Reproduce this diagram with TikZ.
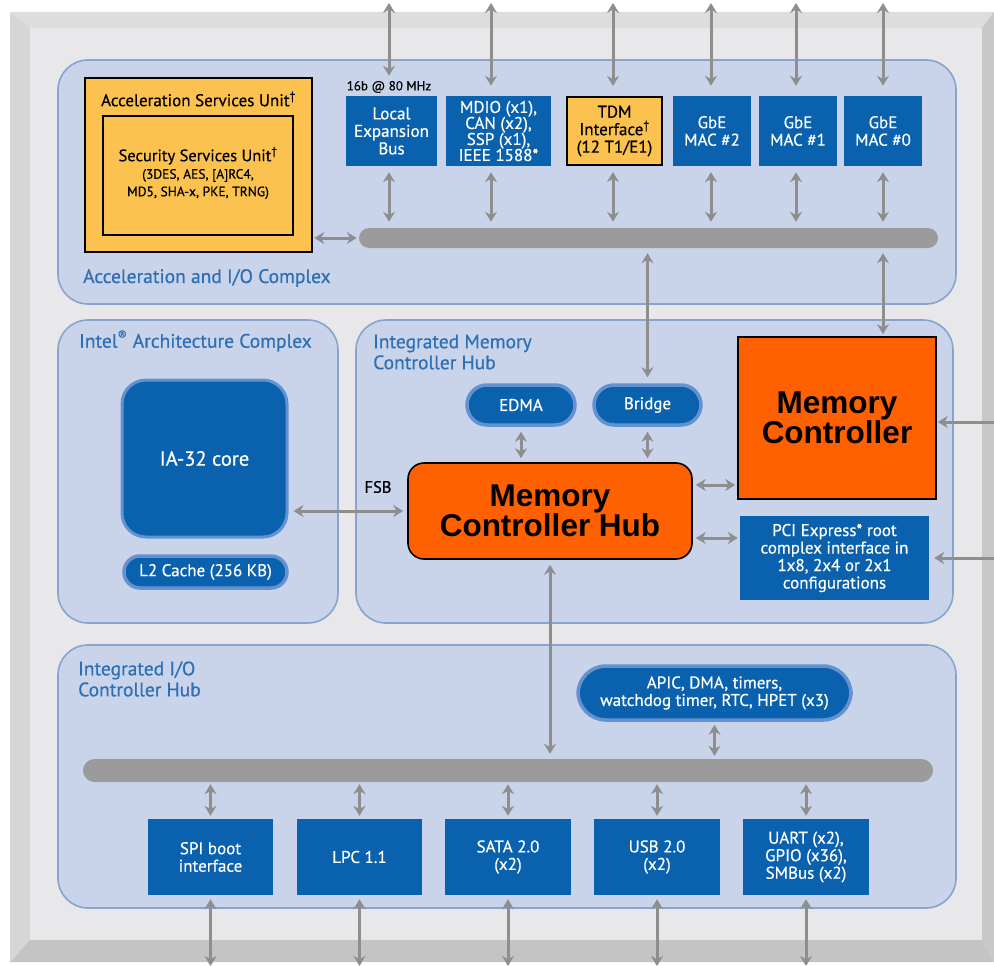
\documentclass[tikz,border=0pt]{standalone}
\usepackage{fontspec}
\setmainfont{PT Sans}[FakeBold=0.5]
\newfontfamily\hubfont{Liberation Sans}
\usetikzlibrary{arrows.meta}
\definecolor{chipblue}{HTML}{0A62AE}
\definecolor{ringblue}{HTML}{6392D0}
\definecolor{panel}{HTML}{C9D4EA}
\definecolor{panelline}{HTML}{88A4CE}
\definecolor{titleblue}{HTML}{2C6FB5}
\definecolor{accel}{HTML}{FBC24F}
\definecolor{hot}{HTML}{FF6000}
\definecolor{busgray}{HTML}{9B9B9B}
\definecolor{wire}{HTML}{8E8E8E}
\definecolor{face}{HTML}{E8E8EA}
\definecolor{bevtop}{HTML}{DDDDDD}
\definecolor{bevleft}{HTML}{D6D6D6}
\definecolor{bevright}{HTML}{C8C8C8}
\definecolor{bevbottom}{HTML}{C4C4C4}
\begin{document}
\begin{tikzpicture}[x=1pt,y=-1pt,
  panelbox/.style={draw=panelline, line width=1.6pt, fill=panel, rounded corners=30pt},
  paneltitle/.style={text=titleblue, anchor=west, inner sep=0pt, align=left,
    font=\fontsize{19.5}{21}\selectfont},
  blk/.style={fill=chipblue, text=white, inner sep=0pt, align=center,
    font=\fontsize{17}{17.5}\selectfont},
  pill/.style={blk, draw=ringblue, line width=3.5pt},
  amber/.style={fill=accel, draw=black, line width=2.6pt, inner sep=0pt},
  hotbox/.style={fill=hot, draw=black, line width=1.6pt, inner sep=0pt, align=center,
    font=\hubfont\bfseries\fontsize{31.5}{30}\selectfont},
  bus/.style={fill=busgray, rounded corners=10pt, inner sep=0pt},
  link/.style={draw=wire, line width=3pt, {Stealth[length=10pt,width=12pt]}-{Stealth[length=10pt,width=12pt]}},
  feed/.style={draw=wire, line width=3pt, -{Stealth[length=10pt,width=12pt]}},
]
\useasboundingbox (0,0) rectangle (994,966);
\fill[white] (0,0) rectangle (994,966);

% bevelled frame
\fill[bevtop] (10,12) -- (994,12) -- (982,28) -- (30,28) -- cycle;
\fill[bevleft] (10,12) -- (30,28) -- (30,940) -- (10,962) -- cycle;
\fill[bevright] (994,12) -- (994,962) -- (982,940) -- (982,28) -- cycle;
\fill[bevbottom] (10,962) -- (30,940) -- (982,940) -- (994,962) -- cycle;
\fill[face] (30,28) rectangle (982,940);

% complexes
\draw[panelbox] (58,60) rectangle (956,304);
\draw[panelbox] (58,320) rectangle (338,623);
\draw[panelbox] (356,320) rectangle (953,623);
\draw[panelbox] (58,645) rectangle (956,908);

\node[paneltitle] (tAcc) at (83,278) {Acceleration and I/O Complex};
\node[paneltitle] (tIA) at (79,341) {Intel\textsuperscript{®} Architecture Complex};
\node[paneltitle] (tIMCH) at (373,352) {Integrated Memory\\Controller Hub};
\node[paneltitle] (tIOCH) at (78,679) {Integrated I/O\\Controller Hub};

% acceleration and I/O complex
\node[amber, minimum width=227pt, minimum height=174pt] (asu) at (198.5,165) {};
\node[inner sep=0pt, font=\fontsize{17}{17}\selectfont] (asuT) at (198.5,99) {Acceleration Services Unit\textsuperscript{†}};
\node[amber, minimum width=190pt, minimum height=119pt] (ssu) at (198,175.5) {};
\node[inner sep=0pt, align=center, font=\fontsize{13.5}{17.5}\selectfont] (ssuT) at (198,173)
  {{\fontsize{16.5}{17}\selectfont Security Services Unit\textsuperscript{†}}\\(3DES, AES, [A]RC4,\\MD5, SHA-x, PKE, TRNG)};

\node[blk, minimum width=91pt, minimum height=70pt] (leb) at (391.5,131) {Local\\Expansion\\Bus};
\node[inner sep=0pt, font=\fontsize{13}{14}\selectfont] (lebT) at (389,87) {16b @ 80 MHz};
\node[blk, minimum width=105pt, minimum height=70pt, font=\fontsize{17}{16}\selectfont] (mdio) at (498.5,131) {MDIO (x1),\\CAN (x2),\\SSP (x1),\\IEEE 1588*};
\node[amber, line width=2pt, minimum width=95pt, minimum height=68pt, align=center,
  font=\fontsize{17}{17.5}\selectfont] (tdm) at (614.5,131) {TDM\\Interface\textsuperscript{†}\\(12 T1/E1)};
\node[blk, minimum width=78pt, minimum height=70pt] (gbe2) at (712,131) {GbE\\MAC \#2};
\node[blk, minimum width=78pt, minimum height=70pt] (gbe1) at (798,131) {GbE\\MAC \#1};
\node[blk, minimum width=78pt, minimum height=70pt] (gbe0) at (883,131) {GbE\\MAC \#0};

\node[bus, minimum width=579pt, minimum height=20pt] (abar) at (648.5,238) {};

% external pins along the top
\coordinate (pLeb) at (389,3);
\coordinate (pMdio) at (491,3);
\coordinate (pTdm) at (613,3);
\coordinate (pG2) at (711,3);
\coordinate (pG1) at (796,3);
\coordinate (pG0) at (883,3);
\draw[link, shorten >=20pt] (pLeb) -- (pLeb |- leb.north);
\draw[link, shorten >=10pt] (pMdio) -- (pMdio |- mdio.north);
\draw[link, shorten >=10pt] (pTdm) -- (pTdm |- tdm.north);
\draw[link, shorten >=10pt] (pG2) -- (pG2 |- gbe2.north);
\draw[link, shorten >=10pt] (pG1) -- (pG1 |- gbe1.north);
\draw[link, shorten >=10pt] (pG0) -- (pG0 |- gbe0.north);

% blocks onto the acceleration bus
\draw[link, shorten <=6pt, shorten >=6pt] (pLeb |- leb.south) -- (pLeb |- abar.north);
\draw[link, shorten <=6pt, shorten >=6pt] (pMdio |- mdio.south) -- (pMdio |- abar.north);
\draw[link, shorten <=6pt, shorten >=6pt] (pTdm |- tdm.south) -- (pTdm |- abar.north);
\draw[link, shorten <=6pt, shorten >=6pt] (pG2 |- gbe2.south) -- (pG2 |- abar.north);
\draw[link, shorten <=6pt, shorten >=6pt] (pG1 |- gbe1.south) -- (pG1 |- abar.north);
\draw[link, shorten <=6pt, shorten >=6pt] (pG0 |- gbe0.south) -- (pG0 |- abar.north);
\draw[link, shorten <=1pt, shorten >=2pt] (asu.east |- abar.west) -- (abar.west);

% Intel architecture complex
\node[blk, draw=ringblue, line width=3pt, rounded corners=24pt, minimum width=165pt,
  minimum height=157pt, font=\fontsize{20.5}{22}\selectfont] (ia) at (204.5,458.5) {IA-32 core};
\node[pill, rounded corners=16pt, minimum width=163pt, minimum height=32pt] (l2) at (205.5,572) {L2 Cache (256 KB)};

% integrated memory controller hub
\node[pill, rounded corners=20pt, minimum width=108pt, minimum height=40pt] (edma) at (521,405) {EDMA};
\node[pill, rounded corners=20pt, minimum width=107pt, minimum height=40pt] (bridge) at (647.5,405) {Bridge};
\node[hotbox, rounded corners=16pt, minimum width=284pt, minimum height=96pt] (mch) at (550,511) {Memory\\Controller Hub};
\node[hotbox, minimum width=198pt, minimum height=162pt] (mc) at (837,418) {Memory\\Controller};
\node[blk, minimum width=189pt, minimum height=84pt] (pcie) at (834.5,558)
  {PCI Express* root\\complex interface in\\1x8, 2x4 or 2x1\\configurations};
\node[inner sep=0pt, font=\fontsize{16.5}{17}\selectfont] (fsb) at (378,487) {FSB};

\draw[link, shorten <=5pt, shorten >=6pt] (abar.south -| bridge.north) -- (bridge.north);
\draw[link, shorten <=5pt, shorten >=2pt] (abar.south -| pG0) -- (mc.north -| pG0);
\draw[link, shorten <=5pt, shorten >=4pt] (edma.south) -- (edma.south |- mch.north);
\draw[link, shorten <=5pt, shorten >=4pt] (bridge.south) -- (bridge.south |- mch.north);
\draw[link, shorten <=5pt, shorten >=4pt] (ia.east |- mch.west) -- (mch.west);
\coordinate (mchUp) at ([yshift=26pt]mch.east);
\coordinate (mchDn) at ([yshift=-27pt]mch.east);
\draw[link, shorten <=3pt, shorten >=2pt] (mchUp) -- (mchUp -| mc.west);
\draw[link, shorten <=3pt, shorten >=2pt] (mchDn) -- (mchDn -| pcie.west);
\coordinate (mcIn) at (994,422);
\coordinate (pcieIn) at (994,558);
\draw[feed, shorten >=1pt] (mcIn) -- (mcIn -| mc.east);
\draw[feed, shorten >=5pt] (pcieIn) -- (pcieIn -| pcie.east);

% integrated I/O controller hub
\node[pill, rounded corners=28pt, minimum width=273pt, minimum height=54pt] (apic) at (714.5,693)
  {APIC, DMA, timers,\\watchdog timer, RTC, HPET (x3)};
\node[bus, rounded corners=11.5pt, minimum width=850pt, minimum height=23pt] (bbar) at (508,770.5) {};
\node[blk, minimum width=125pt, minimum height=76pt] (spi) at (210.5,857) {SPI boot\\interface};
\node[blk, minimum width=125pt, minimum height=76pt] (lpc) at (359.5,857) {LPC 1.1};
\node[blk, minimum width=126pt, minimum height=76pt] (sata) at (508,857) {SATA 2.0\\(x2)};
\node[blk, minimum width=126pt, minimum height=76pt] (usb) at (657,857) {USB 2.0\\(x2)};
\node[blk, minimum width=126pt, minimum height=76pt] (uart) at (806,857) {UART (x2),\\GPIO (x36),\\SMBus (x2)};

\draw[link, shorten <=5pt, shorten >=5pt] (mch.south) -- (mch.south |- bbar.north);
\draw[link, shorten <=3pt, shorten >=3pt] (apic.south) -- (apic.south |- bbar.north);
\foreach \b/\p in {spi/pSpi, lpc/pLpc, sata/pSata, usb/pUsb, uart/pUart}{
  \coordinate (\p) at (\b.south |- 0,966);
  \draw[link, shorten <=2pt, shorten >=3pt] (\b.south |- bbar.south) -- (\b.north);
  \draw[link, shorten <=4pt] (\b.south) -- (\p);
}
\end{tikzpicture}
\end{document}
